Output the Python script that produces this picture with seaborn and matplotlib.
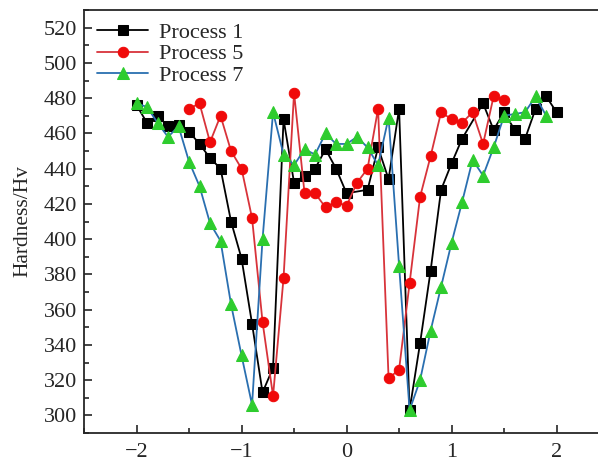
import matplotlib
matplotlib.use("Agg")
import matplotlib.pyplot as plt
from matplotlib.ticker import MultipleLocator
import seaborn as sns
import pandas as pd

# ---- data ----
p1_x = [-2.0, -1.9, -1.8, -1.7, -1.6, -1.5, -1.4, -1.3, -1.2, -1.1, -1.0, -0.9, -0.8, -0.7, -0.6,
        -0.5, -0.4, -0.3, -0.2, -0.1, 0.0, 0.2, 0.3, 0.4, 0.5, 0.6, 0.7, 0.8, 0.9, 1.0, 1.1,
        1.3, 1.4, 1.5, 1.6, 1.7, 1.8, 1.9, 2.0]
p1_y = [476, 466, 470, 464, 465, 461, 454, 446, 440, 410, 389, 352, 313, 327, 468,
        432, 436, 440, 451, 440, 426, 428, 452, 434, 474, 303, 341, 382, 428, 443, 457,
        477, 462, 472, 462, 457, 474, 481, 472]

p5_x = [-1.5, -1.4, -1.3, -1.2, -1.1, -1.0, -0.9, -0.8, -0.7, -0.6, -0.5, -0.4, -0.3, -0.2, -0.1,
        0.0, 0.1, 0.2, 0.3, 0.4, 0.5, 0.6, 0.7, 0.8, 0.9, 1.0, 1.1, 1.2, 1.3, 1.4, 1.5]
p5_y = [474, 477, 455, 470, 450, 440, 412, 353, 311, 378, 483, 426, 426, 418, 421,
        419, 432, 440, 474, 321, 326, 375, 424, 447, 472, 468, 466, 472, 454, 481, 479]

p7_x = [-2.0, -1.9, -1.8, -1.7, -1.6, -1.5, -1.4, -1.3, -1.2, -1.1, -1.0, -0.9, -0.8, -0.7, -0.6,
        -0.5, -0.4, -0.3, -0.2, -0.1, 0.0, 0.1, 0.2, 0.3, 0.4, 0.5, 0.6, 0.7, 0.8, 0.9, 1.0,
        1.1, 1.2, 1.3, 1.4, 1.5, 1.6, 1.7, 1.8, 1.9]
p7_y = [477, 475, 466, 458, 464, 444, 430, 409, 399, 363, 334, 306, 400, 472, 448,
        442, 451, 448, 460, 454, 454, 458, 452, 442, 469, 385, 303, 320, 348, 373, 398,
        421, 445, 436, 452, 470, 471, 472, 481, 470]

labels = ["Process 1", "Process 5", "Process 7"]

df = pd.concat([
    pd.DataFrame({"x": p1_x, "y": p1_y, "Process": labels[0]}),
    pd.DataFrame({"x": p5_x, "y": p5_y, "Process": labels[1]}),
    pd.DataFrame({"x": p7_x, "y": p7_y, "Process": labels[2]}),
], ignore_index=True)

sns.set_style("ticks")
plt.rcParams["font.family"] = ["Liberation Serif", "DejaVu Serif"]

fig = plt.figure(figsize=(5.98, 4.68), dpi=100)
ax = fig.add_axes([84 / 598, 1 - 433 / 468, 1 - 84 / 598, (433 - 10) / 468])

styles = {
    labels[0]: dict(color="#000000", marker="s", markersize=6.5, mfc="#000000", mec="#000000"),
    labels[1]: dict(color="#d8333a", marker="o", markersize=7.5, mfc="#f00a0a", mec="#f00a0a"),
    labels[2]: dict(color="#2a6fb0", marker="^", markersize=8.5, mfc="#2ecc2e", mec="#2ecc2e"),
}
for lab in labels:
    st = styles[lab]
    sns.lineplot(data=df[df["Process"] == lab], x="x", y="y", ax=ax, estimator=None,
                 color=st["color"], marker=st["marker"], markersize=st["markersize"],
                 markerfacecolor=st["mfc"], markeredgecolor=st["mec"], linewidth=1.3,
                 label=lab)

ax.set_xlim(-2.5, 2.394)
ax.set_ylim(290, 530)
ax.xaxis.set_major_locator(MultipleLocator(1))
ax.xaxis.set_minor_locator(MultipleLocator(0.5))
ax.yaxis.set_major_locator(MultipleLocator(20))
ax.yaxis.set_minor_locator(MultipleLocator(10))
ax.tick_params(which="both", direction="in", width=1.2, labelsize=16)
ax.tick_params(which="major", length=6)
ax.tick_params(which="minor", length=3.5)
ax.tick_params(axis="x", pad=7)
ax.tick_params(axis="y", pad=5)
ax.set_xlabel("")
ax.set_ylabel("Hardness/Hv", fontsize=15.5, labelpad=8)
for side in ["left", "bottom", "top"]:
    ax.spines[side].set_linewidth(1.3)
ax.spines["right"].set_visible(False)

leg = ax.legend(loc="upper left", bbox_to_anchor=(-0.005, 1.008), frameon=False, fontsize=16,
                handlelength=2.3, handletextpad=0.5, labelspacing=0.05, borderaxespad=0.3)

fig.savefig("out.png", dpi=100, facecolor="white")
